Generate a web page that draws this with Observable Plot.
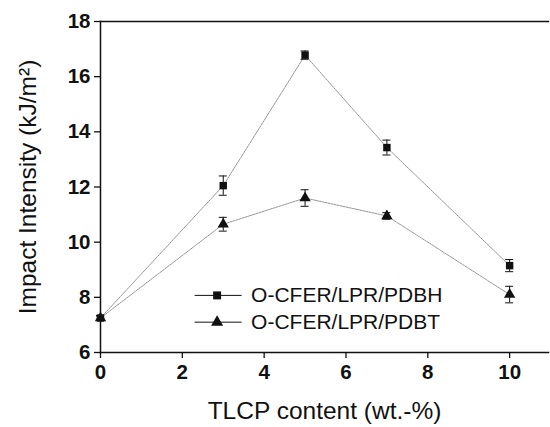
<!DOCTYPE html>
<html>
<head>
<meta charset="utf-8">
<script src="https://cdn.jsdelivr.net/npm/d3@7"></script>
<script src="https://cdn.jsdelivr.net/npm/@observablehq/plot@0.6"></script>
<style>
  html, body { margin: 0; padding: 0; background: #fff; }
  #chart svg { display: block; }
</style>
</head>
<body>
<div id="chart"></div>
<script>
const tlcp = [0, 3, 5, 7, 10];
const pdbh = [7.25, 12.05, 16.78, 13.43, 9.15];
const pdbhErr = [0.08, 0.35, 0.15, 0.27, 0.22];
const pdbt = [7.25, 10.65, 11.6, 10.95, 8.1];
const pdbtErr = [0.08, 0.25, 0.3, 0.12, 0.3];
const seriesNames = ["O-CFER/LPR/PDBH", "O-CFER/LPR/PDBT"];
const seriesSymbols = ["square", "triangle"];
const yTicks = [6, 8, 10, 12, 14, 16, 18];
const xTicks = [0, 2, 4, 6, 8, 10];

const data = [];
tlcp.forEach((x, i) => {
  data.push({x, y: pdbh[i], e: pdbhErr[i], s: seriesNames[0]});
  data.push({x, y: pdbt[i], e: pdbtErr[i], s: seriesNames[1]});
});
const legend = seriesNames.map((name, i) => ({name, symbol: seriesSymbols[i], row: i}));
const legendY = d => 8.07 - d.row * 0.97;

const font = "Liberation Sans, Arial, Helvetica, sans-serif";

const plot = Plot.plot({
  width: 550,
  height: 427,
  marginLeft: 100,
  marginRight: 2,
  marginTop: 21,
  marginBottom: 75,
  style: {fontFamily: font, color: "#111", background: "#fff"},
  x: {domain: [0, 10.95], ticks: xTicks},
  y: {domain: [6, 18], ticks: yTicks},
  symbol: {domain: seriesNames, range: seriesSymbols},
  marks: [
    Plot.axisX({ticks: xTicks, tickSize: 6, tickPadding: 6, fontSize: 20.5, fontWeight: "bold", label: null, strokeWidth: 1.3}),
    Plot.axisY({ticks: yTicks, tickSize: 6, tickPadding: 4, fontSize: 20.5, fontWeight: "bold", label: null, strokeWidth: 1.3}),
    Plot.text(["TLCP content (wt.-%)"], {frameAnchor: "bottom", dy: 59, fontSize: 24.5, fill: "#111", lineAnchor: "middle"}),
    Plot.text(["Impact Intensity (kJ/m\u00B2)"], {frameAnchor: "left", textAnchor: "middle", lineAnchor: "middle", dx: -72, rotate: -90, fontSize: 24.5, fill: "#111"}),
    Plot.frame({anchor: "top", strokeWidth: 1.5}),
    Plot.frame({anchor: "left", strokeWidth: 1.5}),
    Plot.frame({anchor: "bottom", strokeWidth: 1.5}),
    Plot.line(data, {x: "x", y: "y", z: "s", stroke: "#888", strokeWidth: 0.9, strokeDasharray: "2,1"}),
    Plot.ruleX(data, {x: "x", y1: d => d.y - d.e, y2: d => d.y + d.e, stroke: "#111", strokeWidth: 1}),
    Plot.ruleY(data, {y: d => d.y - d.e, x1: "x", x2: "x", insetLeft: -4, insetRight: -4, stroke: "#111", strokeWidth: 1}),
    Plot.ruleY(data, {y: d => d.y + d.e, x1: "x", x2: "x", insetLeft: -4, insetRight: -4, stroke: "#111", strokeWidth: 1}),
    Plot.dot(data, {x: "x", y: "y", symbol: "s", r: 4.2, fill: "#111", stroke: "none"}),
    // legend
    Plot.link(legend, {x1: () => 2.3, x2: () => 3.45, y1: legendY, y2: legendY, stroke: "#111", strokeWidth: 1}),
    Plot.dot(legend, {x: () => 2.85, y: legendY, symbol: "symbol", r: 4.5, fill: "#111", stroke: "none"}),
    Plot.text(legend, {x: () => 3.68, y: legendY, text: "name", textAnchor: "start", fontSize: 21, fill: "#111"})
  ]
});
document.getElementById("chart").appendChild(plot);
</script>
</body>
</html>
